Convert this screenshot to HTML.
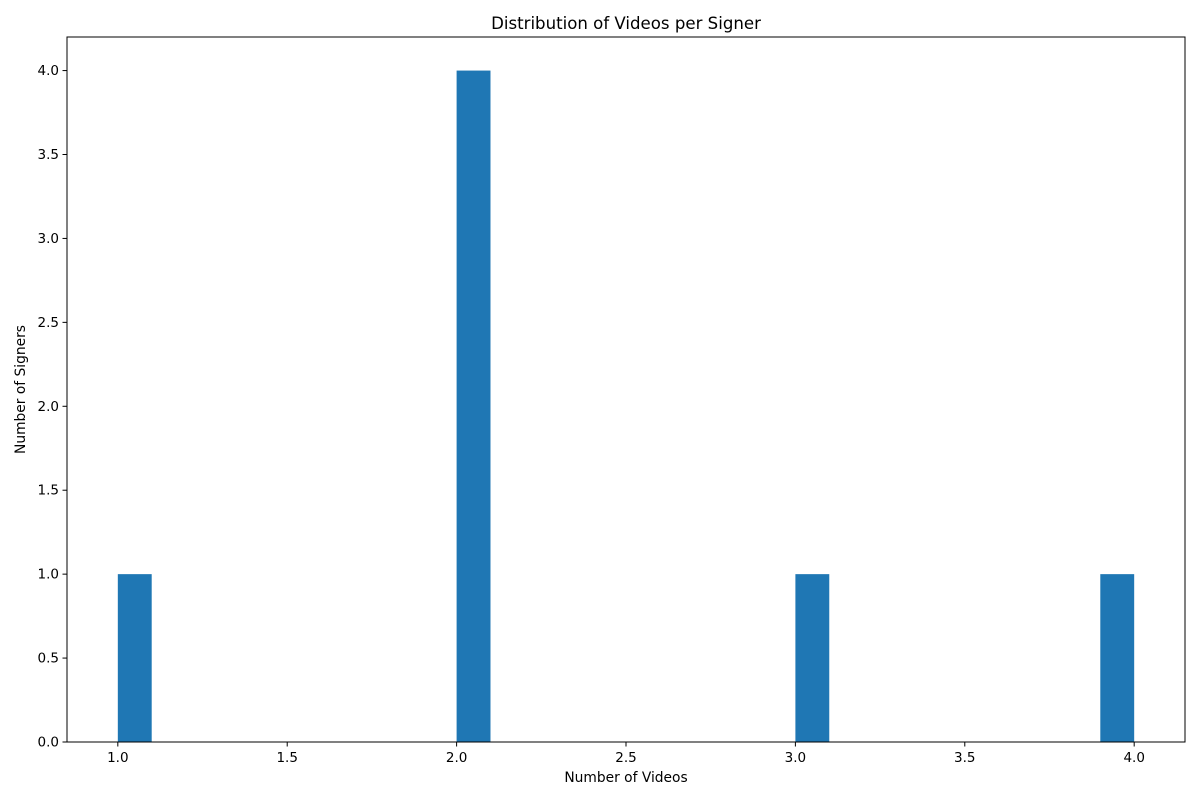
<!DOCTYPE html>
<html><head><meta charset="utf-8"><style>
body{margin:0;background:#fff;font-family:"DejaVu Sans","Liberation Sans",sans-serif;}
</style></head><body>
<svg width="1200" height="800" xmlns="http://www.w3.org/2000/svg" font-family="DejaVu Sans, Liberation Sans, sans-serif">
<rect width="1200" height="800" fill="#fff"/>
<g id="bars"></g>
<rect x="67" y="37" width="1118" height="705" fill="none" stroke="#000" stroke-width="1"/>
<g id="xt" font-size="13.5" text-anchor="middle"></g>
<g id="yt" font-size="13.5" text-anchor="end"></g>
<text x="626" y="29" font-size="16.6" text-anchor="middle">Distribution of Videos per Signer</text>
<text x="626" y="782" font-size="13.8" text-anchor="middle">Number of Videos</text>
<text transform="translate(25,389.5) rotate(-90)" font-size="13.8" text-anchor="middle">Number of Signers</text>
</svg>
<script>
const binStarts=[1.0,2.0,3.0,3.9];
const counts=[1,4,1,1];
const binWidth=0.1;
const xTicks=[1.0,1.5,2.0,2.5,3.0,3.5,4.0];
const yTicks=[0,0.5,1,1.5,2,2.5,3,3.5,4];
const X=v=>67+(v-0.85)/3.3*1118;
const Y=v=>742-v/4.2*705;
const NS="http://www.w3.org/2000/svg";
const bars=document.getElementById('bars');
binStarts.forEach((b,i)=>{
 const r=document.createElementNS(NS,'rect');
 r.setAttribute('x',X(b));r.setAttribute('width',X(b+binWidth)-X(b));
 r.setAttribute('y',Y(counts[i]));r.setAttribute('height',Y(0)-Y(counts[i]));
 r.setAttribute('fill','#1f77b4');
 
 
 bars.appendChild(r);
});
const xt=document.getElementById('xt');
xTicks.forEach(t=>{
 const l=document.createElementNS(NS,'line');
 l.setAttribute('x1',X(t));l.setAttribute('x2',X(t));l.setAttribute('y1',742);l.setAttribute('y2',746.5);l.setAttribute('stroke','#000');
 
 
 xt.appendChild(l);
 const s=document.createElementNS(NS,'text');
 s.setAttribute('x',X(t));s.setAttribute('y',762);s.textContent=t.toFixed(1);
 
 
 xt.appendChild(s);
});
const yt=document.getElementById('yt');
yTicks.forEach(t=>{
 const l=document.createElementNS(NS,'line');
 l.setAttribute('x1',62.5);l.setAttribute('x2',67);l.setAttribute('y1',Y(t));l.setAttribute('y2',Y(t));l.setAttribute('stroke','#000');
 
 
 yt.appendChild(l);
 const s=document.createElementNS(NS,'text');
 s.setAttribute('x',59);s.setAttribute('y',Y(t)+4.5);s.textContent=t.toFixed(1);
 
 
 yt.appendChild(s);
});
</script>
</body></html>
